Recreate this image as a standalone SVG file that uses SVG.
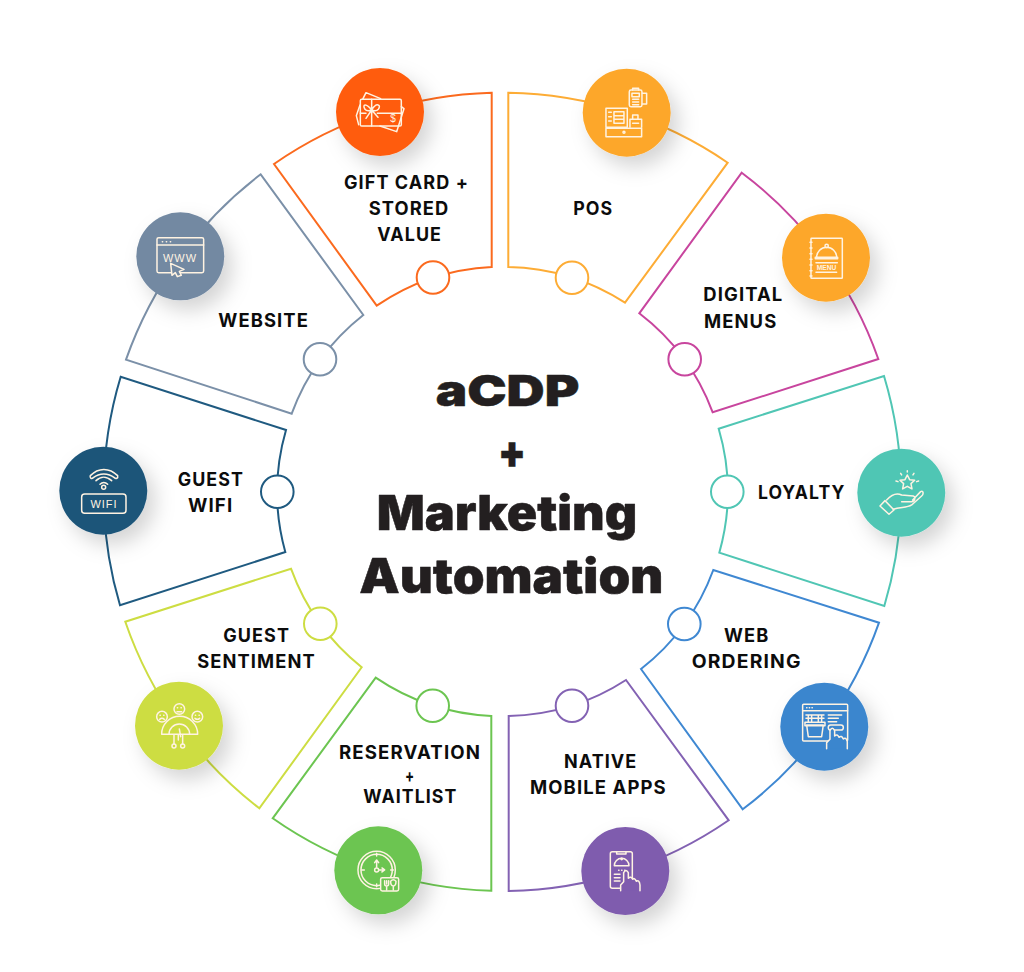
<svg xmlns="http://www.w3.org/2000/svg" width="1024" height="972" viewBox="0 0 1024 972">
<defs>
<filter id="sh" x="-50%" y="-50%" width="210%" height="210%"><feDropShadow dx="8" dy="10" stdDeviation="10" flood-color="#000" flood-opacity=".17"/></filter>
</defs>
<style>
.seg{fill:none;stroke-width:2;stroke-linejoin:miter}
.dot{fill:#fff;stroke-width:2}
.big{filter:url(#sh)}
.lb{font-family:"Inter","Liberation Sans",sans-serif;font-weight:700;font-size:18.5px;letter-spacing:1.1px;fill:#0c0c0c}
.ti{font-family:"Inter","Liberation Sans",sans-serif;font-weight:900;fill:#231f20;stroke:#231f20;stroke-width:.5;stroke-linejoin:round}
.ic{fill:none;stroke:#fff3e2;stroke-width:4.5;stroke-linecap:round;stroke-linejoin:round}
.it{font-family:"Liberation Sans",sans-serif;fill:#fff3e2;stroke:none;text-anchor:middle}
</style>
<rect width="1024" height="972" fill="#fff"/>

<g id="node-gift-card">
<path class="seg" stroke="#fb6a1e" d="M274,164A399,399 0 0 1 491.7,92.7V267A224,224 0 0 0 376.7,305.7Z"/>
<circle class="dot" stroke="#fb6a1e" cx="433" cy="277.5" r="16.3"/>
<circle class="big" fill="#ff5c0a" cx="380" cy="112" r="44"/>
<g class="ic" transform="translate(260,50) scale(.3333)">
<rect x="301" y="148" width="123" height="80" rx="4"/>
<path d="M308,148L318,128L362,146M424,170L432,176L410,245L360,228M300,165L289,197L296,224M335,148V228M301,190H318M352,190H424M335,180C320,160 305,160 315,178C320,184 330,182 335,180C350,155 365,165 355,178C350,184 340,182 335,180L318,205M335,180L354,202"/>
<text class="it" x="399" y="215" font-size="30">$</text>
</g>
<text class="lb" x="344" y="188.6" textLength="125" lengthAdjust="spacingAndGlyphs">GIFT CARD +</text>
<text class="lb" x="368.7" y="214.6" textLength="80.6" lengthAdjust="spacingAndGlyphs">STORED</text>
<text class="lb" x="377.3" y="241" textLength="64.7" lengthAdjust="spacingAndGlyphs">VALUE</text>
</g>

<g id="node-pos">
<path class="seg" stroke="#fdac35" d="M508.3,92.7A399,399 0 0 1 727.7,162.7L625,302.7A224,224 0 0 0 508.3,267Z"/>
<circle class="dot" stroke="#fdac35" cx="572" cy="277.7" r="16.3"/>
<circle class="big" fill="#fda729" cx="626.7" cy="112.7" r="44"/>
<g class="ic" transform="translate(260,50) scale(.3333)">
<rect x="1108" y="120" width="38" height="50" rx="5"/>
<path d="M1118,120V115H1136V120M1116,130H1138V140H1116ZM1147,130H1160V162H1147M1118,148H1136M1118,156H1136M1118,164H1136"/>
<rect x="1038" y="175" width="64" height="57"/>
<path d="M1062,185H1092V220H1062ZM1062,197H1092M1062,208H1092M1046,187H1054M1046,200H1054M1046,213H1054"/>
<path d="M1110,232V208H1145V232M1118,208V195H1134V208M1118,220H1136"/>
<rect x="1038" y="235" width="107" height="25"/>
<circle cx="1092" cy="247" r="3"/>
</g>
<text class="lb" x="573.3" y="214.6" textLength="40" lengthAdjust="spacingAndGlyphs">POS</text>
</g>

<g id="node-digital-menus">
<path class="seg" stroke="#c8459e" d="M741.7,172.7A399,399 0 0 1 878.3,359L712.7,412.3A224,224 0 0 0 639.3,313.3Z"/>
<circle class="dot" stroke="#c8459e" cx="684.7" cy="359.3" r="16.3"/>
<circle class="big" fill="#fda729" cx="826" cy="257.7" r="44"/>
<g class="ic" transform="translate(630,170) scale(.3333)">
<rect x="543" y="205" width="94" height="120" rx="2"/>
<path d="M540,217H546M540,234H546M540,251H546M540,268H546M540,285H546M540,302H546M540,318H546M560,262A30,30 0 0 1 620,262M556,262H623V266H556ZM558,278H622M558,307H620"/>
<circle cx="590" cy="228" r="5"/>
<text class="it" x="590" y="301" font-size="20" font-weight="700">MENU</text>
</g>
<text class="lb" x="703.3" y="301.3" textLength="80" lengthAdjust="spacingAndGlyphs">DIGITAL</text>
<text class="lb" x="704" y="327.6" textLength="73.3" lengthAdjust="spacingAndGlyphs">MENUS</text>
</g>

<g id="node-loyalty">
<path class="seg" stroke="#50c6b4" d="M884,376A399,399 0 0 1 884.3,606L719.3,552.7A224,224 0 0 0 718.7,428.7Z"/>
<circle class="dot" stroke="#50c6b4" cx="727.3" cy="491.7" r="16.3"/>
<circle class="big" fill="#50c6b4" cx="901.3" cy="492.7" r="44"/>
<g class="ic" transform="translate(630,170) scale(.3333)">
<path d="M832,915L839,929L854,931L843,941L846,957L832,949L818,957L821,941L810,931L825,929Z"/>
<path d="M798,933L804,935M866,933L860,935M812,910L815,915M852,910L849,915M832,902V906"/>
<path d="M750,1008L765,992L792,1020L777,1033Z"/>
<path d="M770,990C790,968 805,970 815,975L850,978C858,980 855,995 845,995L815,995M848,990L872,965C880,960 882,972 875,978L845,1005C830,1015 810,1010 790,1018"/>
</g>
<text class="lb" x="758" y="499.3" textLength="87.3" lengthAdjust="spacingAndGlyphs">LOYALTY</text>
</g>

<g id="node-web-ordering">
<path class="seg" stroke="#3f88d2" d="M879,622.7A399,399 0 0 1 742.7,809.3L641,669A224,224 0 0 0 713.3,570Z"/>
<circle class="dot" stroke="#3f88d2" cx="684.3" cy="624" r="16.3"/>
<circle class="big" fill="#3b86ce" cx="824.3" cy="726.7" r="44"/>
<g class="ic" transform="translate(500,560) scale(.3333)">
<rect x="908" y="433" width="135" height="110" rx="3"/>
<path d="M908,452H1043M920,443H921M928,443H929M936,443H937"/>
<path d="M920,495H970L965,530H925ZM915,487H975V497H915ZM925,487V465M935,487V465M955,487V465M965,487V465M918,465H972M918,475H972M985,465H1025M985,475H1015M985,485H1010"/>
<rect x="985" y="495" width="45" height="15" rx="7"/>
<path fill="#3b86ce" d="M980,566V548L990,538V512Q997,498 1004,512V528Q1012,520 1017,532Q1025,525 1030,537Q1038,530 1042,545V566"/>
</g>
<text class="lb" x="724" y="642" textLength="45.3" lengthAdjust="spacingAndGlyphs">WEB</text>
<text class="lb" x="691.7" y="668" textLength="110" lengthAdjust="spacingAndGlyphs">ORDERING</text>
</g>

<g id="node-native-mobile-apps">
<path class="seg" stroke="#8362b3" d="M728.7,820.3A399,399 0 0 1 508.7,891V716A224,224 0 0 0 626,680Z"/>
<circle class="dot" stroke="#8362b3" cx="572" cy="705.7" r="16.3"/>
<circle class="big" fill="#7f5bae" cx="625.3" cy="871" r="44"/>
<g class="ic" transform="translate(500,560) scale(.3333)">
<rect x="331" y="875" width="66" height="110" rx="6"/>
<path d="M350,875V882H378V875M343,917A22,22 0 0 1 387,917M343,917H387M356,931H357M365,931H366M374,931H375M343,943H360M343,953H360M343,963H360"/>
<circle cx="365" cy="897" r="2"/>
<path fill="#7f5bae" d="M362,992V975L371,965V938Q378,925 385,938V955Q393,947 398,958Q404,952 409,964Q418,958 420,975V992"/>
</g>
<text class="lb" x="564" y="768" textLength="73.3" lengthAdjust="spacingAndGlyphs">NATIVE</text>
<text class="lb" x="530" y="794.3" textLength="136.7" lengthAdjust="spacingAndGlyphs">MOBILE APPS</text>
</g>

<g id="node-reservation">
<path class="seg" stroke="#6cc551" d="M491.3,890.7A399,399 0 0 1 272.7,818.3L375.7,677.7A224,224 0 0 0 491.3,716Z"/>
<circle class="dot" stroke="#6cc551" cx="432.7" cy="705.7" r="16.3"/>
<circle class="big" fill="#6cc551" cx="378.3" cy="870.3" r="44"/>
<g class="ic" transform="translate(110,560) scale(.3333)">
<circle cx="800" cy="930" r="56"/>
<circle cx="800" cy="930" r="47"/>
<path d="M800,880V888M755,930H763M842,930H850M800,972V980M800,922V902M794,908L800,900L806,908M807,930H822M816,924L824,930L816,936"/>
<circle cx="800" cy="930" r="6"/>
<rect fill="#6cc551" x="812" y="953" width="54" height="40" rx="5"/>
<path d="M824,962V972Q824,978 830,978V990M836,962V972Q836,978 830,978M830,962V972M850,990V978M842,964Q850,955 858,964Q858,978 850,978Q842,978 842,964Z"/>
</g>
<text class="lb" x="339" y="759.3" textLength="142" lengthAdjust="spacingAndGlyphs">RESERVATION</text>
<text class="lb" x="405" y="782" textLength="10" lengthAdjust="spacingAndGlyphs">+</text>
<text class="lb" x="363.3" y="803.3" textLength="94" lengthAdjust="spacingAndGlyphs">WAITLIST</text>
</g>

<g id="node-guest-sentiment">
<path class="seg" stroke="#cddd42" d="M259.3,808.3A399,399 0 0 1 125.3,621.7L291,568.7A224,224 0 0 0 361.7,667.3Z"/>
<circle class="dot" stroke="#cddd42" cx="320.3" cy="623.7" r="16.3"/>
<circle class="big" fill="#cddd42" cx="179" cy="725.7" r="44"/>
<g class="ic" transform="translate(110,560) scale(.3333)">
<path d="M155,523A54,54 0 0 1 263,523ZM177,523A31,31 0 0 1 239,523M192,523V552M218,523V552M205,523V540M208,507L212,530"/>
<circle cx="192" cy="558" r="6"/><circle cx="218" cy="558" r="6"/>
<circle cx="156" cy="470" r="16"/><circle cx="208" cy="447" r="16"/><circle cx="262" cy="470" r="16"/>
<path d="M150,466H151M161,466H162M149,478Q156,472 163,478M202,443H203M213,443H214M201,455H215M256,466H257M267,466H268M255,475Q262,481 269,475"/>
</g>
<text class="lb" x="223.3" y="642" textLength="66.7" lengthAdjust="spacingAndGlyphs">GUEST</text>
<text class="lb" x="197.3" y="668" textLength="118.4" lengthAdjust="spacingAndGlyphs">SENTIMENT</text>
</g>

<g id="node-guest-wifi">
<path class="seg" stroke="#1f5a80" d="M120,605.3A399,399 0 0 1 120.7,376.7L286,430A224,224 0 0 0 285.3,552Z"/>
<circle class="dot" stroke="#1f5a80" cx="277.3" cy="491.7" r="16.3"/>
<circle class="big" fill="#1c5479" cx="103.3" cy="490.7" r="44"/>
<g class="ic" transform="translate(50,170) scale(.3333)">
<path d="M121,917C145,892 178,892 203,917C205,925 198,928 193,923C175,908 148,908 130,923C125,928 118,925 121,917ZM138,932C152,918 170,918 185,932M150,943C157,936 166,936 173,943"/>
<circle cx="161" cy="952" r="6"/>
<rect x="95" y="972" width="133" height="58" rx="9"/>
<text class="it" x="162" y="1014" font-size="33" letter-spacing="3">WIFI</text>
</g>
<text class="lb" x="177.7" y="486" textLength="66.3" lengthAdjust="spacingAndGlyphs">GUEST</text>
<text class="lb" x="188" y="512" textLength="45.3" lengthAdjust="spacingAndGlyphs">WIFI</text>
</g>

<g id="node-website">
<path class="seg" stroke="#7b90a8" d="M126,359.7A399,399 0 0 1 260.7,174.3L363.3,315A224,224 0 0 0 291.7,413.7Z"/>
<circle class="dot" stroke="#7b90a8" cx="320" cy="359.3" r="16.3"/>
<circle class="big" fill="#7389a2" cx="180.3" cy="256.3" r="44"/>
<g class="ic" transform="translate(50,170) scale(.3333)">
<rect x="321" y="203" width="140" height="105" rx="5"/>
<path d="M321,225H461M337,215H338M349,215H350M361,215H362"/>
<text class="it" x="390" y="275" font-size="33" letter-spacing="3">WWW</text>
<path fill="#7389a2" d="M362,280L402,298L388,304L394,316L382,320L376,308L366,316Z"/>
</g>
<text class="lb" x="218.3" y="327.3" textLength="90.7" lengthAdjust="spacingAndGlyphs">WEBSITE</text>
</g>

<g id="title">
<text class="ti" x="435.7" y="405.7" font-size="43" textLength="143.6" lengthAdjust="spacingAndGlyphs">aCDP</text>
<text class="ti" x="498" y="468" font-size="46" textLength="28" lengthAdjust="spacingAndGlyphs">+</text>
<text class="ti" x="376.7" y="530" font-size="48" textLength="260.6" lengthAdjust="spacingAndGlyphs">Marketing</text>
<text class="ti" x="359.3" y="592.7" font-size="48" textLength="304" lengthAdjust="spacingAndGlyphs">Automation</text>
</g>
</svg>
